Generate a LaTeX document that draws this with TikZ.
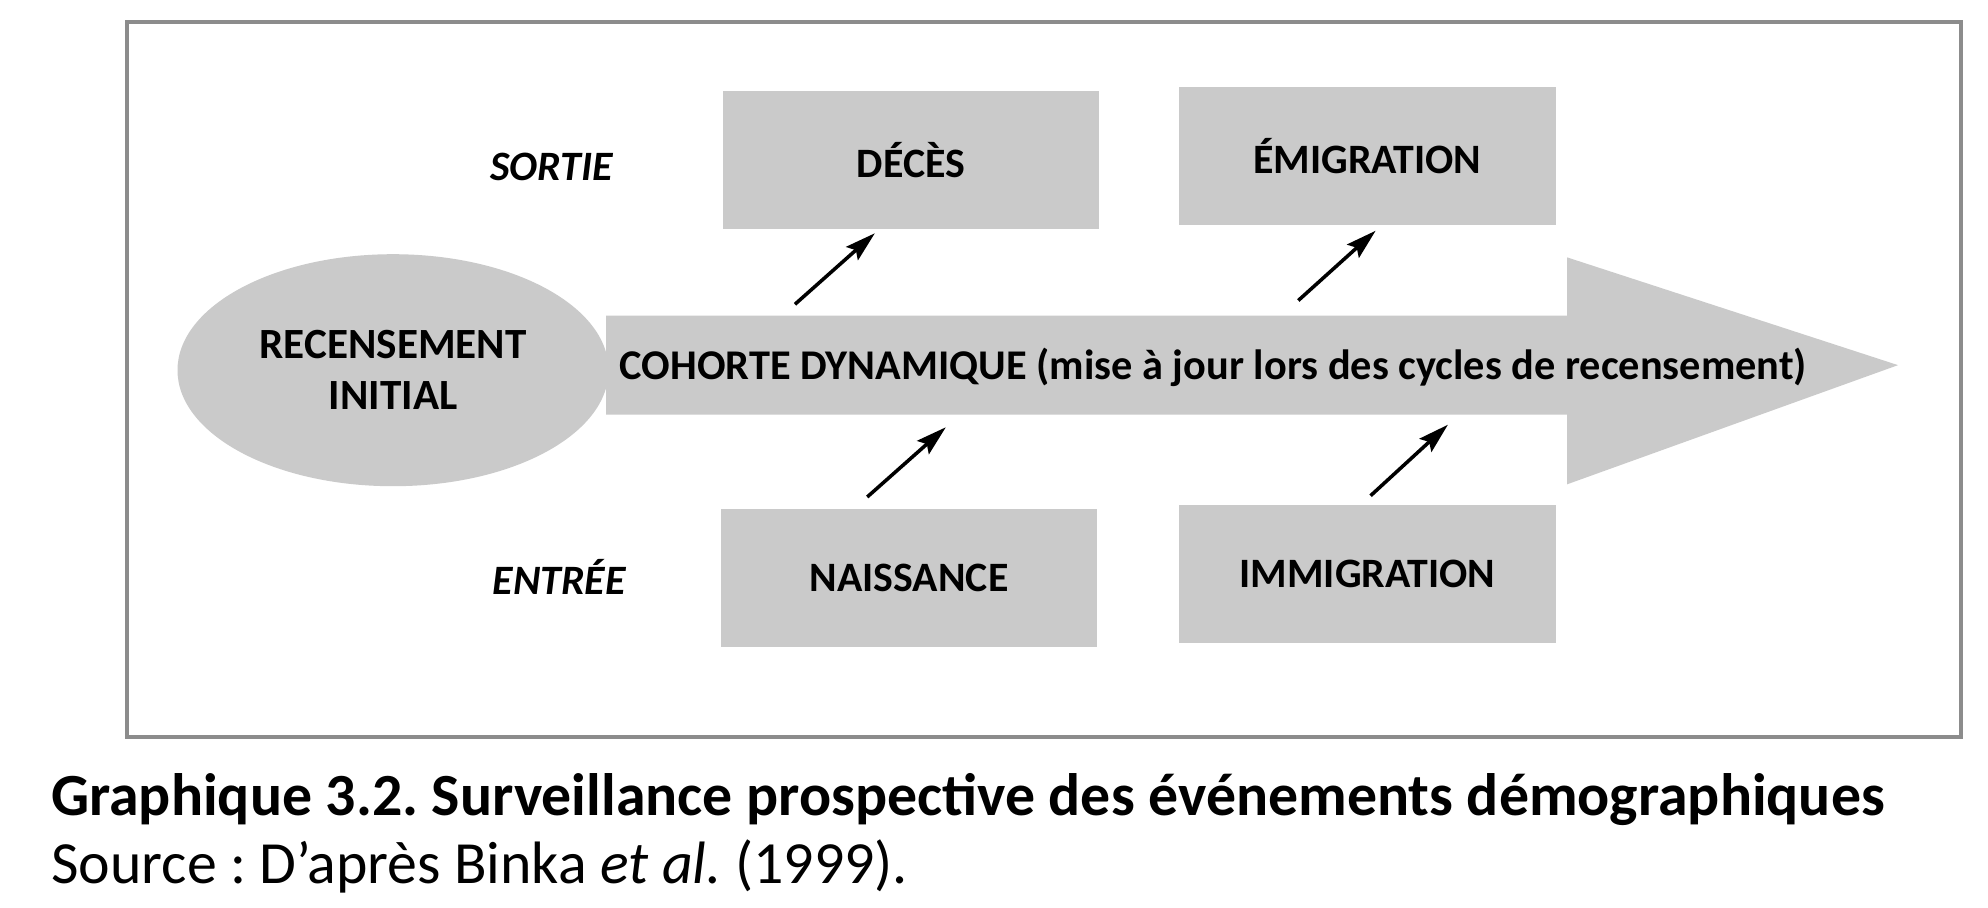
\documentclass[tikz,border=0pt]{standalone}
\usepackage{fontspec}
\setmainfont{Carlito}
\usetikzlibrary{arrows.meta,shapes.geometric}
\frenchspacing
\definecolor{boxgray}{HTML}{CACACA}
\definecolor{framegray}{HTML}{8C8C8C}
\tikzset{
  graybox/.style={fill=boxgray, draw=none, minimum width=148.5pt, minimum height=54.5pt, inner sep=0pt, font=\fontsize{16.5}{18}\selectfont\bfseries},
  sidelbl/.style={font=\fontsize{16.5}{18}\selectfont\bfseries\itshape, inner sep=0pt},
  upar/.style={line width=1.4pt, -{Stealth[length=12pt,width=7pt,inset=2pt]}},
  capbold/.style={font=\fontsize{23.6}{26}\selectfont\bfseries, anchor=base west, inner sep=0pt},
  capreg/.style={font=\fontsize{23.6}{26}\selectfont, anchor=base west, inner sep=0pt}
}
\begin{document}
\begin{tikzpicture}[x=0.5pt,y=-0.5pt]
\useasboundingbox (0,0) rectangle (1568,716);
\fill[white] (0,0) rectangle (1568,716);
% frame
\draw[framegray, line width=1.6pt] (100,17) rectangle (1547,581);
% big arrow
\fill[boxgray] (478,249) -- (1236,249) -- (1236,203) -- (1497,288) -- (1236,382) -- (1236,327) -- (478,327) -- cycle;
\node[inner sep=0pt, font=\fontsize{16.7}{18}\selectfont\bfseries] (cohorte) at (957,290) {COHORTE DYNAMIQUE (mise à jour lors des cycles de recensement)};
% ellipse
\node[ellipse, fill=boxgray, minimum width=170pt, minimum height=91.5pt, inner sep=0pt, align=center, font=\fontsize{17}{20}\selectfont\bfseries] (recens) at (310,292) {RECENSEMENT\\INITIAL};
% boxes
\node[graybox] (deces) at (718.5,126) {DÉCÈS};
\node[graybox] (emig) at (1078.5,123) {ÉMIGRATION};
\node[graybox] (naiss) at (717,456) {NAISSANCE};
\node[graybox] (immig) at (1078.5,453) {IMMIGRATION};
% side labels
\node[sidelbl] (sortie) at (435,132) {SORTIE};
\node[sidelbl] (entree) at (441,455) {ENTRÉE};
% small arrows
\coordinate (a1s) at (627,240); \coordinate (a1e) at (690,184);
\coordinate (a2s) at (1024,237); \coordinate (a2e) at (1085,182);
\coordinate (a3s) at (684,392); \coordinate (a3e) at (746,337);
\coordinate (a4s) at (1081,391); \coordinate (a4e) at (1142,335);
\draw[upar] (a1s) -- (a1e);
\draw[upar] (a2s) -- (a2e);
\draw[upar] (a3s) -- (a3e);
\draw[upar] (a4s) -- (a4e);
% caption
\node[capbold] (cap1) at (40,643) {Graphique 3.2. Surveillance prospective des événements démographiques};
\node[capreg] (cap2) at (40,697) {Source : D’après Binka \textit{et al.} (1999).};
\end{tikzpicture}
\end{document}
